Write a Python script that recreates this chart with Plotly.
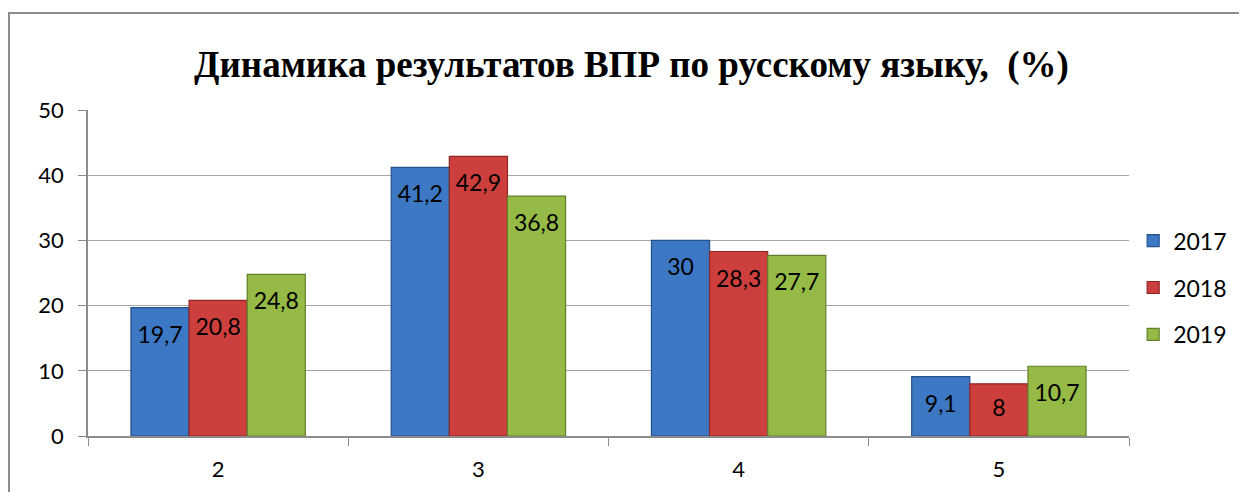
import plotly.graph_objects as go

categories = ['2', '3', '4', '5']
years = ['2017', '2018', '2019']
values_2017 = [19.7, 41.2, 30, 9.1]
values_2018 = [20.8, 42.9, 28.3, 8]
values_2019 = [24.8, 36.8, 27.7, 10.7]

series = [values_2017, values_2018, values_2019]
colors = ['#3C78C3', '#CD3F3C', '#95BA46']
edge_colors = ['#25508A', '#8E2624', '#62802A']
LABEL_DROP = 4.5  # Excel "inside end" labels sit a bit below the bar top
FONT = 'Lato, Liberation Sans, sans-serif'
TICK_FONT = dict(family=FONT, size=22, color='#000000')
AXIS_GRAY = '#8C8C8C'

fig = go.Figure()

for year, vals, col, edge in zip(years, series, colors, edge_colors):
    fig.add_trace(go.Bar(
        x=categories,
        y=vals,
        name=year,
        offsetgroup=year,
        legendgroup=year,
        marker=dict(color=col, line=dict(color=edge, width=1.2)),
        hoverinfo='skip'
    ))

# data labels, aligned with the grouped bars
for year, vals in zip(years, series):
    fig.add_trace(go.Scatter(
        x=categories,
        y=[max(v - LABEL_DROP, v / 2) for v in vals],
        offsetgroup=year,
        mode='text',
        text=[str(v).replace('.', ',') for v in vals],
        textfont=dict(family=FONT, size=23, color='#000000'),
        showlegend=False,
        hoverinfo='skip'
    ))

fig.update_layout(
    width=1247,
    height=492,
    plot_bgcolor='white',
    paper_bgcolor='white',
    margin=dict(l=80, r=126, t=102, b=64),
    barmode='group',
    bargap=0.33,
    bargroupgap=0,
    scattermode='group',
    title=dict(
        text='<b>Динамика результатов ВПР по русскому языку,  (%)</b>',
        font=dict(family='Liberation Serif, Times New Roman, serif', size=37, color='#000000'),
        x=0.5,
        xanchor='center',
        y=0.886,
        yanchor='middle',
        yref='container'
    ),
    legend=dict(
        x=1.004,
        xanchor='left',
        y=0.455,
        yanchor='middle',
        font=dict(family=FONT, size=23, color='#000000'),
        tracegroupgap=14,
        bgcolor='rgba(0,0,0,0)'
    ),
    xaxis=dict(
        showline=True,
        linecolor=AXIS_GRAY,
        linewidth=1.5,
        ticks='outside',
        tickson='boundaries',
        ticklen=8,
        tickcolor=AXIS_GRAY,
        tickfont=TICK_FONT,
        ticklabelstandoff=13,
        showgrid=False
    ),
    yaxis=dict(
        range=[0, 50],
        dtick=10,
        showline=True,
        linecolor=AXIS_GRAY,
        linewidth=1.5,
        ticks='outside',
        ticklen=8,
        tickcolor=AXIS_GRAY,
        tickfont=TICK_FONT,
        ticklabelstandoff=10,
        showgrid=True,
        gridcolor='#A6A6A6',
        gridwidth=1,
        zeroline=False
    ),
    shapes=[dict(
        type='rect', xref='paper', yref='paper',
        x0=-0.0759, x1=1.3, y0=-0.6, y1=1.2975,
        line=dict(color='#8C8C8C', width=2),
        layer='below'
    )]
)

fig.write_html('out.html')
